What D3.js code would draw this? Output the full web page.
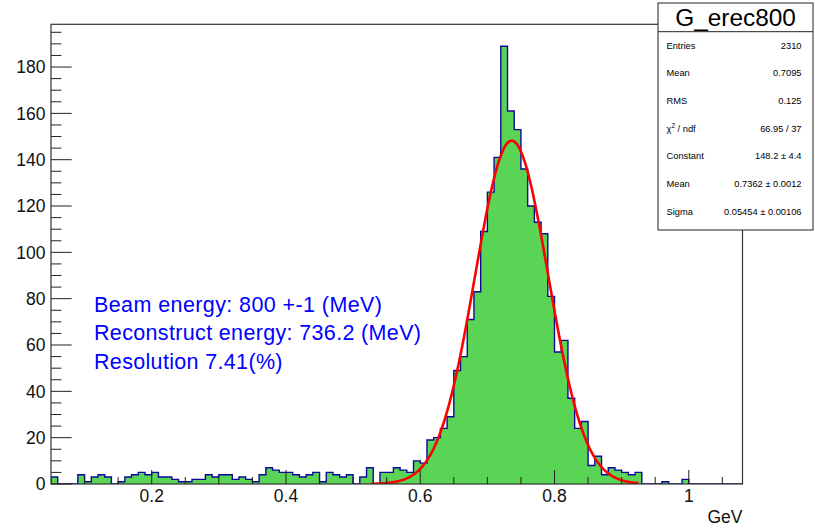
<!DOCTYPE html>
<html>
<head>
<meta charset="utf-8">
<script src="https://cdn.jsdelivr.net/npm/d3@7"></script>
<style>
  body { margin: 0; background: #fff; }
  text { font-family: "Liberation Sans", Arial, Helvetica, sans-serif; }
</style>
</head>
<body>
<svg id="chart" width="815" height="529"></svg>
<script>
// histogram G_erec800: bins of 0.01 GeV starting at 0.05
const binLow = 0.05;
const binWidth = 0.01;
const counts = [
  3, 0, 0, 0, 4, 1, 3, 4, 3, 0,
  1, 3, 4, 5, 4, 5, 3, 3, 2, 1,
  1, 2, 2, 4, 3, 4, 4, 2, 3, 2,
  1, 4, 7, 6, 5, 5, 4, 3, 4, 5,
  1, 5, 4, 3, 4, 0, 3, 7, 0, 5,
  5, 7, 6, 5, 10, 9, 19, 20, 24, 29,
  49, 55, 71, 83, 109, 126, 141, 189, 161, 153,
  136, 120, 113, 108, 81, 57, 62, 37, 24, 27,
  8, 12, 4, 7, 6, 5, 4, 5, 0, 0,
  0, 1, 0, 0, 2, 0, 0, 0, 0, 0,
  0, 0, 0
];

const xTicks = [0.2, 0.4, 0.6, 0.8, 1];
const xTickLabels = ["0.2", "0.4", "0.6", "0.8", "1"];
const yTicks = [0, 20, 40, 60, 80, 100, 120, 140, 160, 180];

// gaussian fit results
const fitConst = 148.2;
const fitMean = 0.7362;
const fitSigma = 0.05454;
const fitRange = [0.526, 0.925];

const statTitle = "G_erec800";
const statNames = ["Entries", "Mean", "RMS", "chi2", "Constant", "Mean", "Sigma"];
const statValues = ["2310", "0.7095", "0.125", "66.95 / 37", "148.2 \u00b1 4.4", "0.7362 \u00b1 0.0012", "0.05454 \u00b1 0.00106"];

const notes = ["Beam energy: 800 +-1 (MeV)", "Reconstruct energy: 736.2 (MeV)", "Resolution 7.41(%)"];

// ---------------------------------------------------------------
const svg = d3.select("#chart");
const fLeft = 51, fRight = 742.5, fTop = 24.3, fBottom = 484;

const x = d3.scaleLinear().domain([0.05, 1.08]).range([fLeft, fRight]);
const y = d3.scaleLinear().domain([0, d3.max(counts) * 1.05]).range([fBottom, fTop]);

svg.append("rect").attr("width", 815).attr("height", 529).attr("fill", "#fff");

svg.append("defs").append("clipPath").attr("id", "frame")
  .append("rect").attr("x", fLeft).attr("y", fTop)
  .attr("width", fRight - fLeft).attr("height", fBottom - fTop);

// step outline of the histogram
const pts = [[binLow, 0]];
counts.forEach((c, i) => {
  pts.push([binLow + i * binWidth, c]);
  pts.push([binLow + (i + 1) * binWidth, c]);
});
pts.push([binLow + counts.length * binWidth, 0]);

const histLine = d3.line().x(d => x(d[0])).y(d => y(d[1]));

const g = svg.append("g").attr("clip-path", "url(#frame)");
g.append("path")
  .attr("d", histLine(pts) + "Z")
  .attr("fill", "#59d454")
  .attr("stroke", "none");
g.append("path")
  .attr("d", histLine(pts))
  .attr("fill", "none")
  .attr("stroke", "#0a0a99")
  .attr("stroke-width", 1.4);

// fit curve
const gaus = v => fitConst * Math.exp(-0.5 * ((v - fitMean) / fitSigma) ** 2);
const fitPts = d3.range(0, 201).map(k => {
  const v = fitRange[0] + (fitRange[1] - fitRange[0]) * k / 200;
  return [v, gaus(v)];
});
g.append("path")
  .attr("d", histLine(fitPts))
  .attr("fill", "none")
  .attr("stroke", "#ff0000")
  .attr("stroke-width", 2.6)
  .attr("stroke-linejoin", "round");

// frame
svg.append("rect")
  .attr("x", fLeft).attr("y", fTop)
  .attr("width", fRight - fLeft).attr("height", fBottom - fTop)
  .attr("fill", "none").attr("stroke", "#333").attr("stroke-width", 1.2);

// x axis ticks (ROOT style, pointing inward)
const xMinor = d3.range(0.1, 1.08, 0.05).filter(v => !xTicks.some(t => Math.abs(t - v) < 1e-6));
svg.append("g").selectAll("line").data(xMinor).join("line")
  .attr("x1", d => x(d)).attr("x2", d => x(d))
  .attr("y1", fBottom).attr("y2", fBottom - 7)
  .attr("stroke", "#222").attr("stroke-width", 1);
svg.append("g").selectAll("line").data(xTicks).join("line")
  .attr("x1", d => x(d)).attr("x2", d => x(d))
  .attr("y1", fBottom).attr("y2", fBottom - 14)
  .attr("stroke", "#222").attr("stroke-width", 1);
svg.append("g").selectAll("text").data(xTicks).join("text")
  .attr("x", d => x(d)).attr("y", 502)
  .attr("text-anchor", "middle")
  .attr("font-size", 17.5).attr("fill", "#111")
  .text((d, i) => xTickLabels[i]);
svg.append("text")
  .attr("x", fRight).attr("y", 523)
  .attr("text-anchor", "end")
  .attr("font-size", 17.5).attr("fill", "#111")
  .text("GeV");

// y axis ticks
const yMinor = d3.range(5, y.domain()[1], 5).filter(v => v % 20 !== 0);
svg.append("g").selectAll("line").data(yMinor).join("line")
  .attr("x1", fLeft).attr("x2", fLeft + 10.4)
  .attr("y1", d => y(d)).attr("y2", d => y(d))
  .attr("stroke", "#222").attr("stroke-width", 1);
svg.append("g").selectAll("line").data(yTicks).join("line")
  .attr("x1", fLeft).attr("x2", fLeft + 20.7)
  .attr("y1", d => y(d)).attr("y2", d => y(d))
  .attr("stroke", "#222").attr("stroke-width", 1);
svg.append("g").selectAll("text").data(yTicks).join("text")
  .attr("x", 45.5).attr("y", d => y(d) + 6.2)
  .attr("text-anchor", "end")
  .attr("font-size", 17.5).attr("fill", "#111")
  .text(d => d);

// stats box
const box = svg.append("g");
box.append("rect")
  .attr("x", 658).attr("y", 3).attr("width", 155).attr("height", 227)
  .attr("fill", "#fff").attr("stroke", "#222").attr("stroke-width", 1);
box.append("line")
  .attr("x1", 658).attr("x2", 813).attr("y1", 31.7).attr("y2", 31.7)
  .attr("stroke", "#222").attr("stroke-width", 1);
box.append("text")
  .attr("x", 735.5).attr("y", 25.5)
  .attr("text-anchor", "middle")
  .attr("font-size", 24.4).attr("fill", "#000")
  .text(statTitle);

const rowY = i => 45.3 + i * 27.7;
statNames.forEach((name, i) => {
  const t = box.append("text")
    .attr("x", 666.5).attr("y", rowY(i) + 3.3)
    .attr("font-size", 9.3).attr("fill", "#000");
  if (name === "chi2") {
    t.append("tspan").text("\u03c7");
    t.append("tspan").attr("font-size", 6.5).attr("dy", -4).text("2");
    t.append("tspan").attr("dy", 4).text(" / ndf");
  } else {
    t.text(name);
  }
  box.append("text")
    .attr("x", 801.5).attr("y", rowY(i) + 3.3)
    .attr("text-anchor", "end")
    .attr("font-size", 9.3).attr("fill", "#000")
    .text(statValues[i]);
});

// annotation lines
const noteWidths = [288, 327, 188.5];
svg.append("g").selectAll("text").data(notes).join("text")
  .attr("x", 94).attr("y", (d, i) => 311.5 + i * 28.7)
  .attr("font-size", 21.5).attr("fill", "#0000ff")
  .attr("textLength", (d, i) => noteWidths[i])
  .attr("lengthAdjust", "spacing")
  .text(d => d);
</script>
</body>
</html>
